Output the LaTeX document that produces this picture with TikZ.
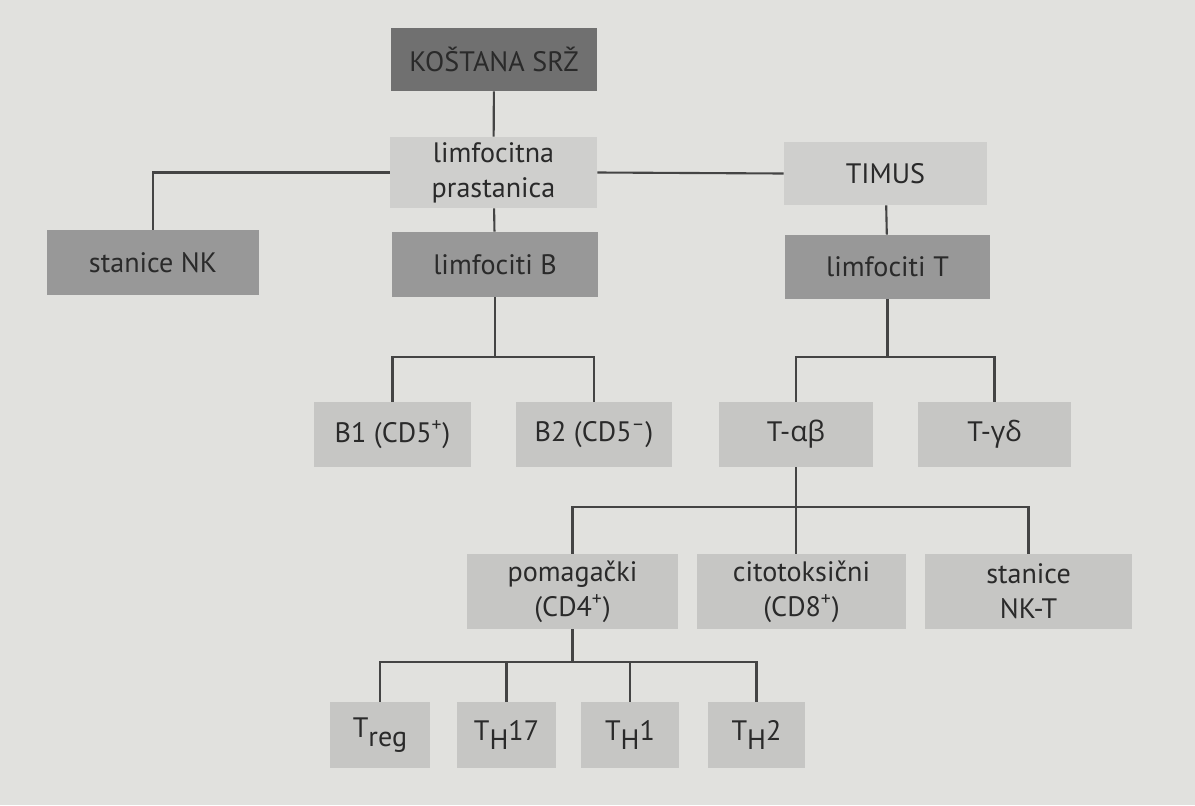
\documentclass[tikz,border=0pt]{standalone}
\usepackage{fontspec}
\setmainfont{PT Sans}
\newfontfamily\grfont{Open Sans}
\usetikzlibrary{calc}
\definecolor{page}{RGB}{225,225,222}
\definecolor{boxdark}{RGB}{112,112,112}
\definecolor{boxmid}{RGB}{152,152,152}
\definecolor{boxlight}{RGB}{207,207,205}
\definecolor{boxpale}{RGB}{198,198,196}
\definecolor{ink}{RGB}{42,42,42}
\definecolor{wire}{RGB}{68,68,68}
\newcommand\lowr[1]{\raisebox{-.6ex}{#1}}

\begin{document}
\begin{tikzpicture}[x=0.02cm,y=-0.02cm,
    cell/.style={inner sep=0pt, text=ink, align=center,
      font=\fontsize{16}{20}\selectfont},
    sz/.style 2 args={minimum width=#1*0.02cm, minimum height=#2*0.02cm},
    wire/.style={draw=wire, line width=1.2pt}]

    %% page
    \fill[page] (0,0) rectangle (1195,805);
    \useasboundingbox (0,0) rectangle (1195,805);

    %%%%%%%%%%%%%%%%
    %% top rows
    \node[cell,fill=boxdark,sz={206}{63}] (bone) at (494,59.5) {KOŠTANA SRŽ};
    \node[cell,fill=boxlight,sz={207}{71}] (prog) at (493.5,172.5) {limfocitna\\prastanica};
    \node[cell,fill=boxlight,sz={203}{63}] (thy) at (885.5,173.5) {TIMUS};

    \node[cell,fill=boxmid,sz={212}{65}] (nk) at (153,262.5) {stanice NK};
    \node[cell,fill=boxmid,sz={206}{65}] (lb) at (495,264.5) {limfociti B};
    \node[cell,fill=boxmid,sz={205}{64}] (lt) at (887.5,267) {limfociti T};

    %% B and T subsets
    \node[cell,fill=boxpale,sz={157}{65}] (b1) at (392.5,434.5) {B1 (CD5\textsuperscript{+})};
    \node[cell,fill=boxpale,sz={156}{65}] (b2) at (594,434.5) {B2 (CD5\textsuperscript{--})};
    \node[cell,fill=boxpale,sz={154}{65}] (tab) at (796,434.5) {T-{\grfont αβ}};
    \node[cell,fill=boxpale,sz={153}{65}] (tgd) at (994.5,434.5) {T-{\grfont γδ}};

    %% alpha-beta subsets
    \node[cell,fill=boxpale,sz={211}{75}] (cd4) at (572.5,591.5) {pomagački\\(CD4\textsuperscript{+})};
    \node[cell,fill=boxpale,sz={209}{75}] (cd8) at (801.5,591.5) {citotoksični\\(CD8\textsuperscript{+})};
    \node[cell,fill=boxpale,sz={207}{75}] (nkt) at (1028.5,591.5) {stanice\\NK-T};

    %% helper subsets
    \node[cell,fill=boxpale,sz={100}{66}] (treg) at (380,735) {T\lowr{reg}};
    \node[cell,fill=boxpale,sz={99}{66}] (th17) at (506.5,735) {T\lowr{H}17};
    \node[cell,fill=boxpale,sz={98}{66}] (th1) at (630,735) {T\lowr{H}1};
    \node[cell,fill=boxpale,sz={97}{66}] (th2) at (756.5,735) {T\lowr{H}2};

    %%%%%%%%%%%%%%%%
    %% connectors
    \draw[wire] (bone) -- (prog);
    \draw[wire] (prog) -- (lb);
    \draw[wire] (prog.west) -| (nk.north);
    \draw[wire] (prog.east) -- (thy.west);
    \draw[wire] (thy) -- (lt);

    %% forks
    \draw[wire] (lb.south) -- ++(0,60) coordinate (bfork);
    \draw[wire] (b1.north) |- (bfork) -| (b2.north);

    \draw[wire] (lt.south) -- ++(0,58) coordinate (tfork);
    \draw[wire] (tab.north) |- (tfork) -| (tgd.north);

    \draw[wire] (tab.south) -- ++(0,40) coordinate (abfork);
    \draw[wire] (cd4.north) |- (abfork) -| (nkt.north);
    \draw[wire] (abfork) -- (abfork |- cd8.north);

    \draw[wire] (cd4.south) -- ++(0,33) coordinate (hfork);
    \draw[wire] (treg.north) |- (hfork) -| (th2.north);
    \draw[wire] (th17.north) -- (th17.north |- hfork);
    \draw[wire] (th1.north) -- (th1.north |- hfork);

\end{tikzpicture}
\end{document}
